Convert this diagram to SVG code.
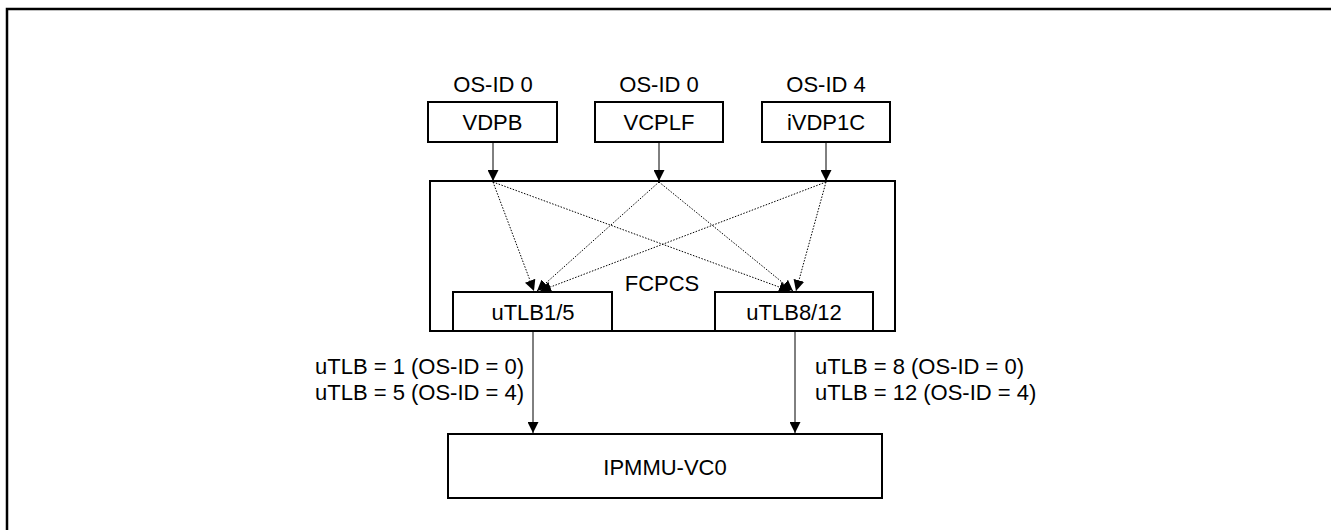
<svg xmlns="http://www.w3.org/2000/svg" width="1331" height="530" viewBox="0 0 1331 530">
<style>
.box{fill:#fff;stroke:#000;stroke-width:2}
.t{font-family:"Liberation Sans",Arial,sans-serif;font-size:22px;fill:#000;text-anchor:middle;dominant-baseline:central}
.l{font-family:"Liberation Sans",Arial,sans-serif;font-size:22px;fill:#000}
.a{stroke:#000;stroke-width:1;fill:none;marker-end:url(#ah)}
.d{stroke:#000;stroke-width:1;fill:none;stroke-dasharray:1.5,1.5;marker-end:url(#ah)}
</style>
<defs>
<marker id="ah" markerWidth="11" markerHeight="11" refX="10" refY="5" orient="auto" markerUnits="userSpaceOnUse" viewBox="0 0 10 10">
<path d="M0,0 L10,5 L0,10 Z" fill="#000"/>
</marker>
</defs>
<rect width="1331" height="530" fill="#fff"/>
<path d="M7,540 V9 H1340" fill="none" stroke="#000" stroke-width="2.5"/>
<g id="vdpb"><text class="t" x="493" y="84">OS-ID 0</text><rect class="box" x="428" y="102" width="129" height="40"/><text class="t" x="492.5" y="122">VDPB</text></g>
<g id="vcplf"><text class="t" x="659" y="84">OS-ID 0</text><rect class="box" x="595" y="102" width="128" height="40"/><text class="t" x="659" y="122">VCPLF</text></g>
<g id="ivdp1c"><text class="t" x="826" y="84">OS-ID 4</text><rect class="box" x="762" y="102" width="128" height="40"/><text class="t" x="826" y="122">iVDP1C</text></g>
<g id="fcpcs"><rect class="box" x="430" y="181" width="465" height="150"/><text class="t" x="662" y="283">FCPCS</text></g>
<g id="utlb15"><rect class="box" x="453" y="292" width="159" height="39"/><text class="t" x="533" y="312">uTLB1/5</text></g>
<g id="utlb812"><rect class="box" x="715" y="292" width="158" height="39"/><text class="t" x="794" y="312">uTLB8/12</text></g>
<g id="ipmmu"><rect class="box" x="448" y="434" width="434" height="64"/><text class="t" x="665" y="467">IPMMU-VC0</text></g>
<g id="connectors">
<line class="a" x1="493" y1="142" x2="493" y2="181"/>
<line class="a" x1="659" y1="142" x2="659" y2="181"/>
<line class="a" x1="826" y1="142" x2="826" y2="181"/>
<line class="d" x1="493" y1="182" x2="534" y2="291"/>
<line class="d" x1="659" y1="182" x2="537" y2="291"/>
<line class="d" x1="826" y1="182" x2="540" y2="291"/>
<line class="d" x1="493" y1="182" x2="790" y2="291"/>
<line class="d" x1="659" y1="182" x2="793" y2="291"/>
<line class="d" x1="826" y1="182" x2="796" y2="291"/>
<line class="a" x1="533" y1="331" x2="533" y2="433"/>
<line class="a" x1="795" y1="331" x2="795" y2="433"/>
</g>
<g id="labels">
<text class="l" x="315" y="374">uTLB = 1 (OS-ID = 0)</text>
<text class="l" x="315" y="400">uTLB = 5 (OS-ID = 4)</text>
<text class="l" x="815" y="374">uTLB = 8 (OS-ID = 0)</text>
<text class="l" x="815" y="400">uTLB = 12 (OS-ID = 4)</text>
</g>
</svg>
